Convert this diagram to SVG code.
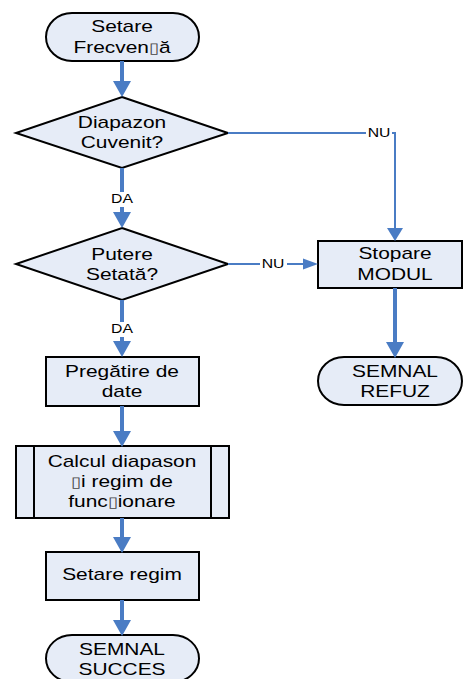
<svg xmlns="http://www.w3.org/2000/svg" width="463" height="679" viewBox="0 0 463 679">
<style>
.n{fill:#E6ECF7;stroke:#000;stroke-width:2}
.t{font-family:"Liberation Sans",Arial,sans-serif;font-size:17px;fill:#000;text-anchor:middle}
.lb{font-family:"Liberation Sans",Arial,sans-serif;font-size:12.5px;fill:#000;text-anchor:middle}
.tk{stroke:#4A7CC4;stroke-width:4;fill:none}
.tn{stroke:#4A7CC4;stroke-width:2;fill:none}
.bg{fill:#fff}
.box{font-size:15px;fill:#444}
</style>
<defs>
<marker id="hk" markerUnits="userSpaceOnUse" markerWidth="16" markerHeight="18" refX="0" refY="9" orient="auto" overflow="visible"><path d="M0,0 L16,9 L0,18 z" fill="#4A7CC4"/></marker>
<marker id="hv" markerUnits="userSpaceOnUse" markerWidth="13" markerHeight="16" refX="0" refY="8" orient="auto" overflow="visible"><path d="M0,0 L13,8 L0,16 z" fill="#4A7CC4"/></marker>
<marker id="hh" markerUnits="userSpaceOnUse" markerWidth="15" markerHeight="11" refX="0" refY="5.5" orient="auto" overflow="visible"><path d="M0,0 L15,5.5 L0,11 z" fill="#4A7CC4"/></marker>
</defs>
<rect width="463" height="679" fill="#fff"/>
<g id="start">
<rect class="n" x="46" y="13" width="153" height="48" rx="26" ry="24"/>
<text class="t" transform="translate(122,0) scale(1.23,1)"><tspan x="0" y="32">Setare</tspan><tspan x="0" y="53">Frecven<tspan class="box">▯</tspan>ă</tspan></text>
</g>
<g id="diapazon">
<polygon class="n" points="122,97 228,133 122,168 16,133"/>
<text class="t" transform="translate(122,0) scale(1.23,1)"><tspan x="0" y="128">Diapazon</tspan><tspan x="0" y="148">Cuvenit?</tspan></text>
</g>
<g id="putere">
<polygon class="n" points="122,228 228,264 122,300 16,264"/>
<text class="t" transform="translate(122,0) scale(1.23,1)"><tspan x="0" y="260">Putere</tspan><tspan x="0" y="280">Setată?</tspan></text>
</g>
<g id="stopare">
<rect class="n" x="318" y="241" width="144" height="47"/>
<text class="t" transform="translate(395,0) scale(1.23,1)"><tspan x="0" y="259">Stopare</tspan><tspan x="0" y="280">MODUL</tspan></text>
</g>
<g id="refuz">
<rect class="n" x="318" y="357" width="144" height="48" rx="26" ry="24"/>
<text class="t" transform="translate(395,0) scale(1.23,1)"><tspan x="0" y="377">SEMNAL</tspan><tspan x="0" y="397">REFUZ</tspan></text>
</g>
<g id="pregatire">
<rect class="n" x="46" y="357" width="153" height="49"/>
<text class="t" transform="translate(122,0) scale(1.23,1)"><tspan x="0" y="377">Pregătire de</tspan><tspan x="0" y="397">date</tspan></text>
</g>
<g id="calcul">
<rect class="n" x="16" y="446" width="213" height="72"/>
<line x1="34" y1="446" x2="34" y2="518" stroke="#000" stroke-width="2"/>
<line x1="211" y1="446" x2="211" y2="518" stroke="#000" stroke-width="2"/>
<text class="t" transform="translate(122,0) scale(1.23,1)"><tspan x="0" y="467">Calcul diapason</tspan><tspan x="0" y="487"><tspan class="box">▯</tspan>i regim de</tspan><tspan x="0" y="507">func<tspan class="box">▯</tspan>ionare</tspan></text>
</g>
<g id="setare-regim">
<rect class="n" x="46" y="552" width="153" height="48"/>
<text class="t" transform="translate(122,0) scale(1.23,1)"><tspan x="0" y="580">Setare regim</tspan></text>
</g>
<g id="succes">
<rect class="n" x="46" y="635" width="153" height="47" rx="26" ry="23.5"/>
<text class="t" transform="translate(122,0) scale(1.23,1)"><tspan x="0" y="655">SEMNAL</tspan><tspan x="0" y="675">SUCCES</tspan></text>
</g>
<g id="connectors">
<line class="tk" x1="122" y1="61" x2="122" y2="81" marker-end="url(#hk)"/>
<line class="tk" x1="122" y1="168" x2="122" y2="212" marker-end="url(#hk)"/>
<rect class="bg" x="109" y="192" width="26" height="15"/>
<text class="lb" transform="translate(122,0) scale(1.26,1)" x="0" y="203">DA</text>
<line class="tk" x1="122" y1="300" x2="122" y2="341" marker-end="url(#hk)"/>
<rect class="bg" x="109" y="322" width="26" height="15"/>
<text class="lb" transform="translate(122,0) scale(1.26,1)" x="0" y="333">DA</text>
<line class="tk" x1="122" y1="406" x2="122" y2="431" marker-end="url(#hk)"/>
<line class="tk" x1="122" y1="518" x2="122" y2="537" marker-end="url(#hk)"/>
<line class="tk" x1="122" y1="600" x2="122" y2="620" marker-end="url(#hk)"/>
<line class="tk" x1="395" y1="288" x2="395" y2="342" marker-end="url(#hk)"/>
<polyline class="tn" points="228,133 395,133 395,228" marker-end="url(#hv)"/>
<rect class="bg" x="366" y="126" width="26" height="14"/>
<text class="lb" transform="translate(379,0) scale(1.26,1)" x="0" y="137">NU</text>
<line class="tn" x1="228" y1="264" x2="303" y2="264" marker-end="url(#hh)"/>
<rect class="bg" x="260" y="257" width="27" height="14"/>
<text class="lb" transform="translate(273,0) scale(1.26,1)" x="0" y="268">NU</text>
</g>
</svg>
